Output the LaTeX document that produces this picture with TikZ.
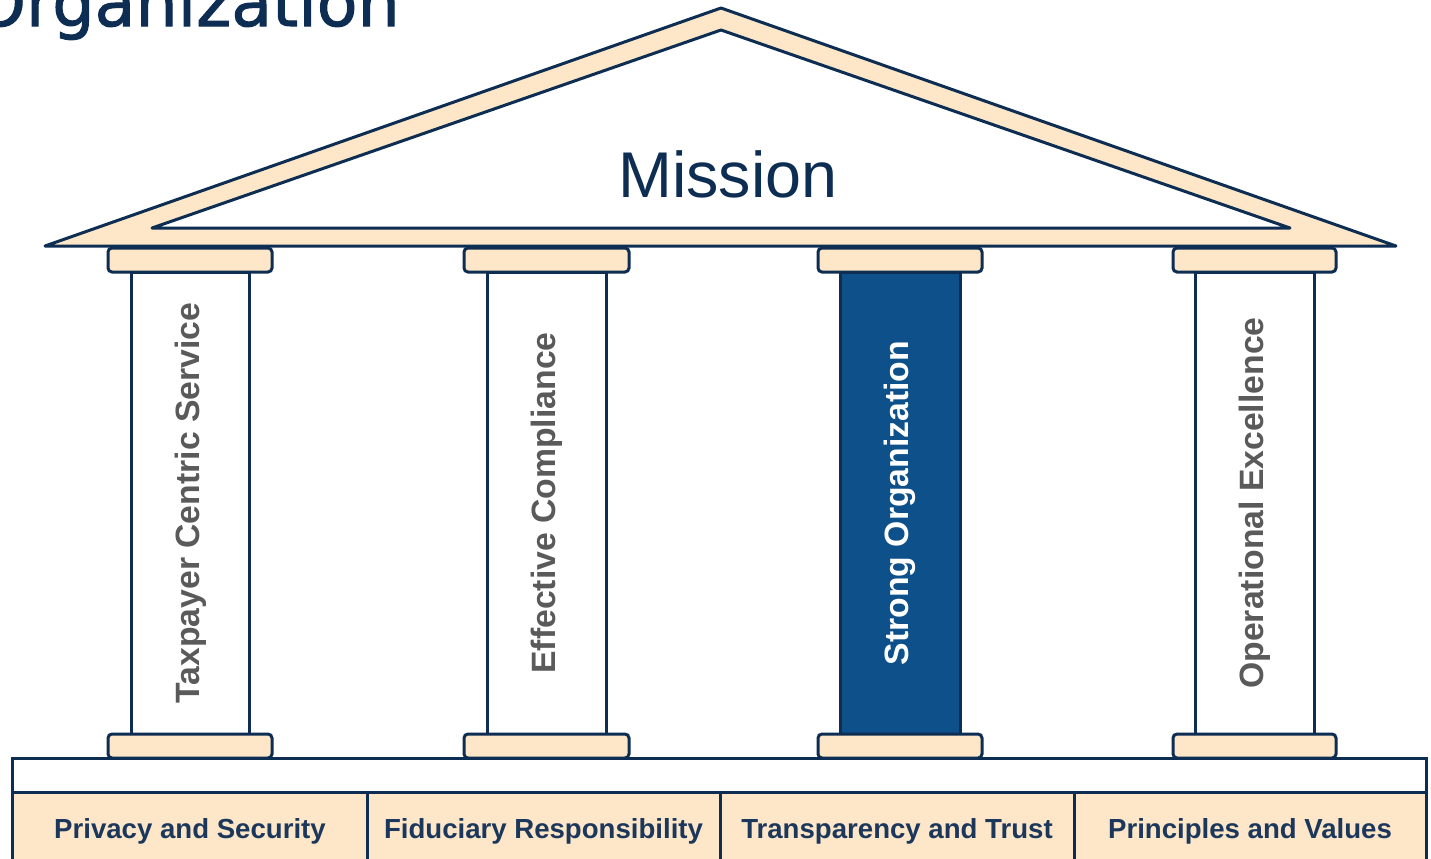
\documentclass[tikz,border=0pt]{standalone}
\usepackage{fontspec}
\setmainfont{Liberation Sans}
\newfontfamily\titlefont[FakeBold=1.5]{DejaVu Sans}
\usepackage{tikz}
\usetikzlibrary{shapes,arrows}

\definecolor{navyline}{RGB}{14,45,82}
\definecolor{creamfill}{RGB}{253,231,200}
\definecolor{pillarblue}{RGB}{14,80,137}
\definecolor{pillargray}{RGB}{90,90,90}
\definecolor{basetext}{RGB}{28,55,92}

\begin{document}
\begin{tikzpicture}[x=0.75pt,y=0.75pt,yscale=-1,xscale=1,
    roofpart/.style={draw=navyline,line width=2.25,line join=round},
    capbox/.style={draw=navyline,fill=creamfill,line width=2.25,rounded corners=3},
    shaftbox/.style={draw=navyline,fill=white,line width=2.25},
    basebox/.style={draw=navyline,fill=creamfill,line width=2.25},
    pillartext/.style={inner sep=0,rotate=90,anchor=base,text=pillargray,font=\fontsize{25.3}{30}\selectfont\bfseries},
    basetextnode/.style={inner sep=0,anchor=base,text=basetext,font=\fontsize{20.7}{24}\selectfont\bfseries}]
    \useasboundingbox (0,0) rectangle (1431,858);
    \clip (0,0) rectangle (1431,858);

    % Title Node
    \draw (400,26) node [anchor=base east][inner sep=0] (title) {\titlefont\fontsize{50}{60}\selectfont\color{navyline}Organization};

    %Shape: Triangle
    \draw [roofpart,fill=creamfill] (721,8) -- (1396,246) -- (45,246) -- cycle ;
    %Shape: Triangle
    \draw [roofpart,fill=white] (721,30) -- (1290,228) -- (152,228) -- cycle ;

    %Shape: Rectangle
    \draw [shaftbox] (131,272) rectangle (249,734) ;
    %Shape: Rectangle
    \draw [shaftbox] (487,272) rectangle (606,734) ;
    %Shape: Rectangle
    \draw [shaftbox,fill=pillarblue] (840,272) rectangle (960,734) ;
    %Shape: Rectangle
    \draw [shaftbox] (1195,272) rectangle (1314,734) ;

    %Shape: Rounded Rectangle
    \draw [capbox] (108,248) rectangle (272,272) ;
    %Shape: Rounded Rectangle
    \draw [capbox] (464,248) rectangle (629,272) ;
    %Shape: Rounded Rectangle
    \draw [capbox] (818,248) rectangle (982,272) ;
    %Shape: Rounded Rectangle
    \draw [capbox] (1173,248) rectangle (1336,272) ;

    %Shape: Rectangle
    \draw [shaftbox] (12,758) rectangle (1426,792) ;
    %Shape: Rectangle
    \draw [basebox] (12,792) rectangle (367,880) ;
    %Shape: Rectangle
    \draw [basebox] (367,792) rectangle (720,880) ;
    %Shape: Rectangle
    \draw [basebox] (720,792) rectangle (1074,880) ;
    %Shape: Rectangle
    \draw [basebox] (1074,792) rectangle (1426,880) ;

    %Shape: Rounded Rectangle
    \draw [capbox] (108,734) rectangle (272,758) ;
    %Shape: Rounded Rectangle
    \draw [capbox] (464,734) rectangle (629,758) ;
    %Shape: Rounded Rectangle
    \draw [capbox] (818,734) rectangle (982,758) ;
    %Shape: Rounded Rectangle
    \draw [capbox] (1173,734) rectangle (1336,758) ;

    % Text Node
    \draw (728,197) node [anchor=base][inner sep=0] (mission) {\fontsize{48.5}{56}\selectfont\color{navyline}Mission};
    % Text Node
    \draw (199,503) node [pillartext] (taxpayer) {Taxpayer Centric Service};
    % Text Node
    \draw (555,503) node [pillartext] (compliance) {Effective Compliance};
    % Text Node
    \draw (908,503) node [pillartext,text=white] (strong) {Strong Organization};
    % Text Node
    \draw (1263,503) node [pillartext] (excellence) {Operational Excellence};
    % Text Node
    \draw (190,838) node [basetextnode] (privacy) {Privacy and Security};
    % Text Node
    \draw (543.5,838) node [basetextnode] (fiduciary) {Fiduciary Responsibility};
    % Text Node
    \draw (897,838) node [basetextnode] (transparency) {Transparency and Trust};
    % Text Node
    \draw (1250,838) node [basetextnode] (principles) {Principles and Values};

\end{tikzpicture}
\end{document}
